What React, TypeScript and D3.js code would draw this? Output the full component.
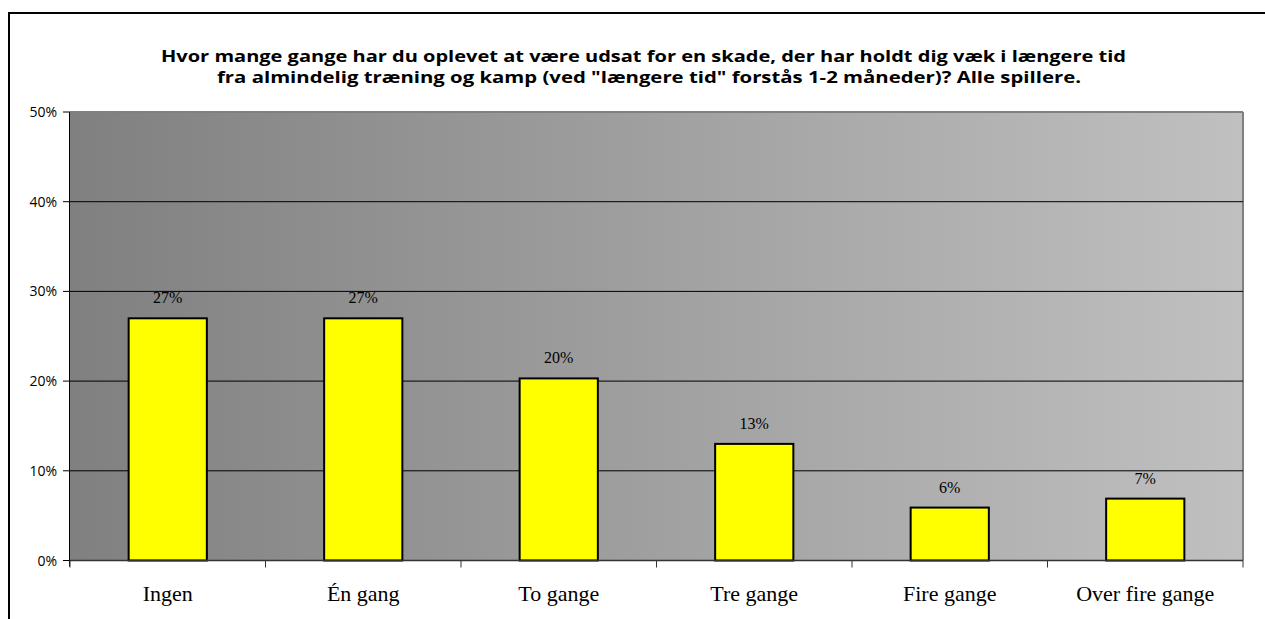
import React from "react";
import * as d3 from "d3";

const categories = ["Ingen", "Én gang", "To gange", "Tre gange", "Fire gange", "Over fire gange"];
const values = [27.0, 27.0, 20.3, 13.0, 5.9, 6.9];
const valueLabels = ["27%", "27%", "20%", "13%", "6%", "7%"];
const yTicks = [0, 10, 20, 30, 40, 50];
const titleLines = [
  "Hvor mange gange har du oplevet at være udsat for en skade, der har holdt dig væk i længere tid",
  "fra almindelig træning og kamp (ved \"længere tid\" forstås 1-2 måneder)? Alle spillere.",
];

const W = 1265;
const H = 619;
const plot = { left: 70, right: 1243, top: 112, bottom: 560.5 };

export default function App() {
  const x = d3.scaleBand<string>().domain(categories).range([plot.left, plot.right]).padding(0);
  const y = d3.scaleLinear().domain([0, 50]).range([plot.bottom, plot.top]);
  const bw = x.bandwidth() * 0.4;
  const boundaries = [...categories.map((c) => x(c) as number), plot.right];

  return (
    <div style={{ position: "fixed", left: 0, top: 0, width: W, height: H, overflow: "hidden", background: "#fff" }}>
      <svg width={W} height={H} style={{ display: "block" }}>
        <defs>
          <linearGradient id="bg" x1="0" x2="1" y1="0" y2="0">
            <stop offset="0" stopColor="#808080" />
            <stop offset="1" stopColor="#c0c0c0" />
          </linearGradient>
        </defs>
        <rect x={0} y={0} width={W} height={H} fill="#fff" />
        {/* outer frame (top and left edges visible) */}
        <line x1={8} x2={W} y1={13} y2={13} stroke="#000" strokeWidth={2} />
        <line x1={9} x2={9} y1={12} y2={H} stroke="#000" strokeWidth={2} />
        {/* title */}
        {titleLines.map((t, i) => (
          <text
            key={i}
            x={i === 0 ? 643.5 : 649}
            y={62 + i * 21}
            textAnchor="middle"
            fontFamily="Open Sans"
            fontWeight="bold"
            fontSize={16}
            textLength={i === 0 ? 965 : 864}
            lengthAdjust="spacingAndGlyphs"
            fill="#000"
          >
            {t}
          </text>
        ))}
        {/* plot background */}
        <rect
          x={plot.left}
          y={plot.top}
          width={plot.right - plot.left}
          height={plot.bottom - plot.top}
          fill="url(#bg)"
        />
        {/* plot border top/right */}
        <line x1={plot.left} x2={plot.right} y1={plot.top} y2={plot.top} stroke="#808080" strokeWidth={2} />
        <line x1={plot.right} x2={plot.right} y1={plot.top} y2={plot.bottom} stroke="#808080" strokeWidth={2} />
        {/* gridlines */}
        {yTicks
          .filter((t) => t > 0 && t < 50)
          .map((t) => (
            <line key={t} x1={plot.left} x2={plot.right} y1={y(t)} y2={y(t)} stroke="#000" strokeWidth={1} />
          ))}
        {/* bars */}
        {values.map((v, i) => {
          const cx = (x(categories[i]) as number) + x.bandwidth() / 2;
          return (
            <g key={i}>
              <rect
                x={cx - bw / 2}
                y={y(v)}
                width={bw}
                height={y(0) - y(v)}
                fill="#ffff00"
                stroke="#000"
                strokeWidth={2}
              />
              <text
                x={cx}
                y={y(v) - 15}
                textAnchor="middle"
                fontFamily="Liberation Serif"
                fontSize={16}
                fill="#000"
              >
                {valueLabels[i]}
              </text>
              <text
                x={cx}
                y={601}
                textAnchor="middle"
                fontFamily="Liberation Serif"
                fontSize={22}
                fill="#000"
              >
                {categories[i]}
              </text>
            </g>
          );
        })}
        {/* axes */}
        <line x1={plot.left - 0.5} x2={plot.left - 0.5} y1={plot.top} y2={plot.bottom + 6} stroke="#000" strokeWidth={1} />
        <line x1={plot.left - 0.5} x2={plot.right} y1={plot.bottom} y2={plot.bottom} stroke="#333" strokeWidth={1.5} />
        {yTicks.map((t) => (
          <g key={t}>
            <line x1={63} x2={plot.left} y1={y(t)} y2={y(t)} stroke="#000" strokeWidth={1} />
            <text
              x={57}
              y={y(t) + 5}
              textAnchor="end"
              fontFamily="Open Sans"
              fontSize={14}
              fill="#000"
            >
              {t}%
            </text>
          </g>
        ))}
        {boundaries.map((b, i) => (
          <line key={i} x1={b} x2={b} y1={plot.bottom} y2={plot.bottom + 7} stroke="#333" strokeWidth={1} />
        ))}
      </svg>
    </div>
  );
}
